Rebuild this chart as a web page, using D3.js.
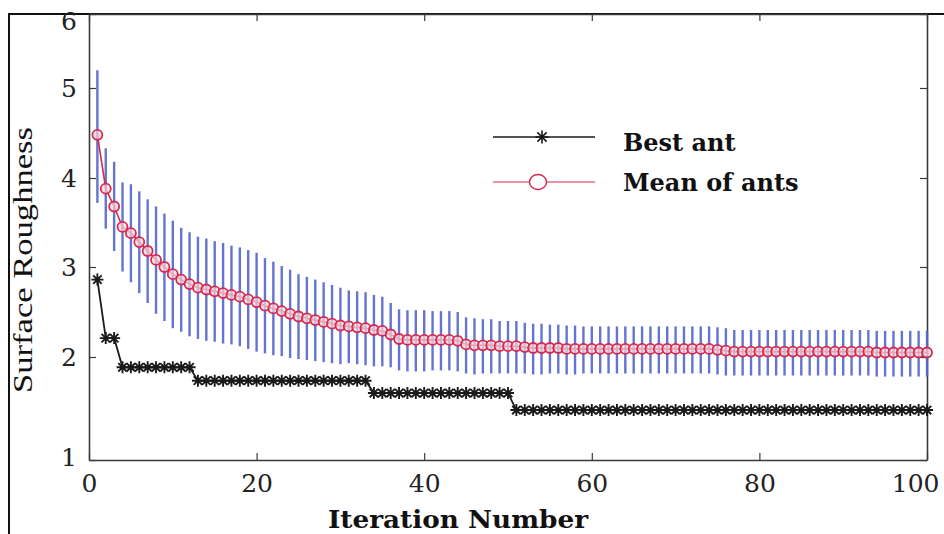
<!DOCTYPE html>
<html>
<head>
<meta charset="utf-8">
<script src="https://cdn.jsdelivr.net/npm/d3@7"></script>
<style>
  body { margin: 0; background: #fff; }
  svg { display: block; }
</style>
</head>
<body>
<div id="chart"></div>
<script>
// values
const xTicks = [0, 20, 40, 60, 80, 100];
const yTicks = [1, 2, 3, 4, 5, 6];

const bestAnt = [
  2.86, 2.21, 2.21, 1.90, 1.90, 1.90, 1.90, 1.90, 1.90, 1.90,
  1.90, 1.90, 1.77, 1.77, 1.77, 1.77, 1.77, 1.77, 1.77, 1.77,
  1.77, 1.77, 1.77, 1.77, 1.77, 1.77, 1.77, 1.77, 1.77, 1.77,
  1.77, 1.77, 1.77, 1.65, 1.65, 1.65, 1.65, 1.65, 1.65, 1.65,
  1.65, 1.65, 1.65, 1.65, 1.65, 1.65, 1.65, 1.65, 1.65, 1.65,
  1.485, 1.485, 1.485, 1.485, 1.485, 1.485, 1.485, 1.485, 1.485, 1.485,
  1.485, 1.485, 1.485, 1.485, 1.485, 1.485, 1.485, 1.485, 1.485, 1.485,
  1.485, 1.485, 1.485, 1.485, 1.485, 1.485, 1.485, 1.485, 1.485, 1.485,
  1.485, 1.485, 1.485, 1.485, 1.485, 1.485, 1.485, 1.485, 1.485, 1.485,
  1.485, 1.485, 1.485, 1.485, 1.485, 1.485, 1.485, 1.485, 1.485, 1.485
];

const meanAnts = [
  4.48, 3.88, 3.68, 3.45, 3.38, 3.28, 3.18, 3.08, 3.00, 2.92,
  2.86, 2.81, 2.77, 2.75, 2.73, 2.71, 2.69, 2.67, 2.64, 2.61,
  2.57, 2.54, 2.51, 2.48, 2.45, 2.43, 2.41, 2.39, 2.37, 2.35,
  2.34, 2.33, 2.32, 2.30, 2.29, 2.25, 2.20, 2.19, 2.19, 2.19,
  2.19, 2.19, 2.19, 2.18, 2.14, 2.13, 2.13, 2.13, 2.12, 2.12,
  2.12, 2.11, 2.10, 2.10, 2.10, 2.10, 2.09, 2.09, 2.09, 2.09,
  2.09, 2.09, 2.09, 2.09, 2.09, 2.09, 2.09, 2.09, 2.09, 2.09,
  2.09, 2.09, 2.09, 2.09, 2.08, 2.07, 2.06, 2.06, 2.06, 2.06,
  2.06, 2.06, 2.06, 2.06, 2.06, 2.06, 2.06, 2.06, 2.06, 2.06,
  2.06, 2.06, 2.06, 2.05, 2.05, 2.05, 2.05, 2.05, 2.05, 2.05
];

const meanErr = [
  0.76, 0.45, 0.50, 0.50, 0.55, 0.57, 0.58, 0.60, 0.60, 0.60,
  0.58, 0.58, 0.57, 0.57, 0.56, 0.56, 0.55, 0.55, 0.55, 0.55,
  0.53, 0.52, 0.50, 0.49, 0.47, 0.46, 0.45, 0.44, 0.43, 0.42,
  0.40, 0.40, 0.40, 0.39, 0.38, 0.35, 0.33, 0.33, 0.33, 0.33,
  0.32, 0.32, 0.32, 0.32, 0.30, 0.30, 0.29, 0.29, 0.28, 0.28,
  0.28, 0.27, 0.27, 0.27, 0.26, 0.26, 0.26, 0.26, 0.25, 0.25,
  0.25, 0.25, 0.25, 0.25, 0.25, 0.25, 0.25, 0.25, 0.25, 0.25,
  0.25, 0.25, 0.25, 0.25, 0.25, 0.25, 0.24, 0.24, 0.24, 0.24,
  0.24, 0.24, 0.24, 0.24, 0.24, 0.24, 0.24, 0.24, 0.24, 0.24,
  0.24, 0.24, 0.24, 0.24, 0.24, 0.24, 0.24, 0.24, 0.24, 0.24
];

const iterations = bestAnt.map((d, i) => i + 1);

const width = 944, height = 534;
const plot = { left: 89, right: 927, top: 14, bottom: 460 };

const svg = d3.select("#chart").append("svg")
  .attr("width", width)
  .attr("height", height);

svg.append("rect").attr("width", width).attr("height", height).attr("fill", "#fff");

const x = d3.scaleLinear().domain([0, 100]).range([plot.left, plot.right]);
// the scanned axis is not evenly spaced, so follow its tick positions
const y = d3.scaleLinear().domain(yTicks).range([460, 357, 267, 178, 88, 14]);

// outer figure frame (left and top edges)
svg.append("path")
  .attr("d", `M9,${height}V14H${width}`)
  .attr("fill", "none")
  .attr("stroke", "#111")
  .attr("stroke-width", 2);

const tickFont = "'DejaVu Serif', serif";

const gx = svg.append("g")
  .attr("transform", `translate(0,${plot.bottom})`)
  .call(d3.axisBottom(x).tickValues(xTicks).tickSize(-7).tickPadding(14).tickSizeOuter(0));
const gxTop = svg.append("g")
  .attr("transform", `translate(0,${plot.top})`)
  .call(d3.axisTop(x).tickValues(xTicks).tickSize(-7).tickFormat("").tickSizeOuter(0));
const gy = svg.append("g")
  .attr("transform", `translate(${plot.left},0)`)
  .call(d3.axisLeft(y).tickValues(yTicks).tickFormat(d3.format("d"))
    .tickSize(-7).tickPadding(12).tickSizeOuter(0));
const gyRight = svg.append("g")
  .attr("transform", `translate(${plot.right},0)`)
  .call(d3.axisRight(y).tickValues(yTicks).tickSize(-7).tickFormat("").tickSizeOuter(0));

[gx, gxTop, gy, gyRight].forEach((g) => {
  g.select(".domain").attr("stroke", "#3a3a3a").attr("stroke-width", 1.6);
  g.selectAll(".tick line").attr("stroke", "#3a3a3a").attr("stroke-width", 1.2);
  g.selectAll(".tick text")
    .attr("font-family", tickFont)
    .attr("font-size", 25)
    .attr("fill", "#222");
});
// as in the scan: "6" sits below the top edge, "100" is pulled inside the page
gy.selectAll(".tick text").filter((d) => d === 6).attr("dy", "0.62em");
gy.selectAll(".tick text").filter((d) => d === 1).attr("dy", "0.2em");
gx.selectAll(".tick text").filter((d) => d === 100).attr("text-anchor", "end").attr("x", 12);

// error bars
const bars = svg.append("g");
bars.selectAll("line")
  .data(iterations)
  .join("line")
  .attr("x1", (d) => x(d))
  .attr("x2", (d) => x(d))
  .attr("y1", (d, i) => y(meanAnts[i] + meanErr[i]))
  .attr("y2", (d, i) => y(meanAnts[i] - meanErr[i]))
  .attr("stroke", "#5465cc")
  .attr("stroke-width", 2.4)
  .attr("opacity", 0.9);

// mean of ants
const meanLine = d3.line()
  .x((d) => x(d))
  .y((d, i) => y(meanAnts[i]));
svg.append("path")
  .datum(iterations)
  .attr("d", meanLine)
  .attr("fill", "none")
  .attr("stroke", "#d42a4f")
  .attr("stroke-width", 1.6);
svg.append("g").selectAll("circle")
  .data(iterations)
  .join("circle")
  .attr("cx", (d) => x(d))
  .attr("cy", (d, i) => y(meanAnts[i]))
  .attr("r", 5)
  .attr("fill", "#f8d5dd")
  .attr("fill-opacity", 0.7)
  .attr("stroke", "#d42a4f")
  .attr("stroke-width", 1.8);

// best ant
const starPath = (r) => {
  const q = r * Math.SQRT1_2;
  return `M${-r},0H${r}M0,${-r}V${r}M${-q},${-q}L${q},${q}M${-q},${q}L${q},${-q}`;
};
const bestLine = d3.line()
  .x((d) => x(d))
  .y((d, i) => y(bestAnt[i]));
svg.append("path")
  .datum(iterations)
  .attr("d", bestLine)
  .attr("fill", "none")
  .attr("stroke", "#1a1a1a")
  .attr("stroke-width", 1.8);
svg.append("g").selectAll("path")
  .data(iterations)
  .join("path")
  .attr("transform", (d, i) => `translate(${x(d)},${y(bestAnt[i])})`)
  .attr("d", starPath(6))
  .attr("fill", "none")
  .attr("stroke", "#1a1a1a")
  .attr("stroke-width", 1.9);

// legend
const legend = svg.append("g");
legend.append("line")
  .attr("x1", 493).attr("x2", 595).attr("y1", 137).attr("y2", 137)
  .attr("stroke", "#1a1a1a").attr("stroke-width", 1.6);
legend.append("path")
  .attr("transform", "translate(542,137)")
  .attr("d", starPath(6.5))
  .attr("fill", "none").attr("stroke", "#1a1a1a").attr("stroke-width", 1.6);
legend.append("line")
  .attr("x1", 493).attr("x2", 595).attr("y1", 182).attr("y2", 182)
  .attr("stroke", "#d42a4f").attr("stroke-width", 1.2);
legend.append("ellipse")
  .attr("cx", 538).attr("cy", 182).attr("rx", 8.5).attr("ry", 7.5)
  .attr("fill", "#fff").attr("stroke", "#d42a4f").attr("stroke-width", 1.5);
legend.append("text")
  .attr("x", 623).attr("y", 151)
  .attr("font-family", tickFont).attr("font-weight", "bold").attr("font-size", 24)
  .attr("fill", "#111")
  .text("Best ant");
legend.append("text")
  .attr("x", 623).attr("y", 191)
  .attr("font-family", tickFont).attr("font-weight", "bold").attr("font-size", 24)
  .attr("fill", "#111")
  .text("Mean of ants");

// axis titles
svg.append("text")
  .attr("x", 458).attr("y", 528)
  .attr("text-anchor", "middle")
  .attr("font-family", tickFont).attr("font-weight", "bold").attr("font-size", 24)
  .attr("textLength", 260).attr("lengthAdjust", "spacingAndGlyphs")
  .attr("fill", "#111")
  .text("Iteration Number");
svg.append("text")
  .attr("transform", "translate(32,260) rotate(-90)")
  .attr("text-anchor", "middle")
  .attr("font-family", "'Liberation Serif', serif").attr("font-size", 27)
  .attr("textLength", 266).attr("lengthAdjust", "spacingAndGlyphs")
  .attr("fill", "#111")
  .text("Surface Roughness");
</script>
</body>
</html>
